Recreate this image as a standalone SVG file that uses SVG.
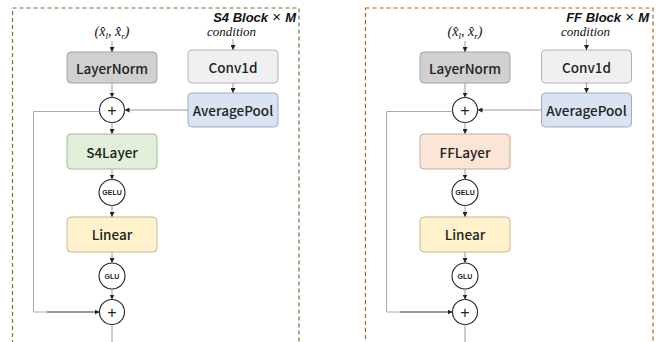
<svg xmlns="http://www.w3.org/2000/svg" width="659" height="342" viewBox="0 0 659 342">
  <defs>
    <marker id="arr" viewBox="0 0 6 6" refX="6" refY="3" markerWidth="5" markerHeight="5" orient="auto" markerUnits="userSpaceOnUse">
      <path d="M0,0 L6,3 L0,6 z" fill="#222"/>
    </marker>
    <style>
      .frame { fill: none; stroke-width: 1.2; stroke-dasharray: 4 3; }
      .box { stroke-width: 1; }
      .lbl { font-family: "Noto Sans CJK JP", "Noto Sans", sans-serif; font-weight: 500; font-size: 13.5px; fill: #222; text-anchor: middle; dominant-baseline: central; }
      .act { fill: #fff; stroke: #222; stroke-width: 1.1; }
      .actlbl { font-family: "Liberation Sans", Arial, sans-serif; font-weight: bold; font-size: 7px; fill: #222; text-anchor: middle; dominant-baseline: central; }
      .plus { font-family: "Liberation Sans", Arial, sans-serif; font-size: 16px; fill: #222; text-anchor: middle; dominant-baseline: central; }
      .wire { fill: none; stroke: #9a9a9a; stroke-width: 1; }
      .skip { fill: none; stroke: #a4aabb; stroke-width: 1; }
      .dark { fill: none; stroke: #333; stroke-width: 1; }
      .title { font-family: "Liberation Sans", Arial, sans-serif; font-weight: bold; font-style: italic; font-size: 13px; fill: #111; text-anchor: end; }
      .times { font-style: normal; font-weight: normal; font-size: 15px; }
      .cond { font-family: "Liberation Serif", "Times New Roman", serif; font-style: italic; font-size: 13px; fill: #111; }
      .math { font-family: "Liberation Serif", "Times New Roman", serif; font-style: italic; font-size: 14px; fill: #111; text-anchor: middle; }
    </style>
  </defs>

  <!-- S4 block (left) -->
  <g id="s4-block">
    <rect class="frame" x="12.5" y="8" width="286.5" height="340" stroke="#548235"/>
    <text class="title" x="296" y="22">S4 Block<tspan class="times"> × </tspan>M</text>
    <text class="cond" x="207" y="36">condition</text>
    <text class="math" x="112" y="36">(<tspan>x̂</tspan><tspan font-size="9" dy="2.5">l</tspan><tspan dy="-2.5">, </tspan><tspan>x̂</tspan><tspan font-size="9" dy="2.5">r</tspan><tspan dy="-2.5">)</tspan></text>
  </g>
  <g id="s4-layernorm">
    <rect class="box" x="67" y="52" width="90" height="31" rx="4" fill="#d0d0d0" stroke="#a3a3a3"/>
    <text class="lbl" x="112" y="67.5">LayerNorm</text>
  </g>
  <g id="s4-conv1d">
    <rect class="box" x="188" y="50" width="90" height="33" rx="4" fill="#f0f0f0" stroke="#b3b3b3"/>
    <text class="lbl" x="233" y="66.5">Conv1d</text>
  </g>
  <g id="s4-avgpool">
    <rect class="box" x="188" y="93" width="90" height="34" rx="4" fill="#dae3f3" stroke="#a3abbb"/>
    <text class="lbl" x="233" y="110">AveragePool</text>
  </g>
  <g id="s4-add1">
    <circle class="act" cx="112" cy="110" r="12.5"/>
    <text class="plus" x="112" y="110">+</text>
  </g>
  <g id="s4-layer">
    <rect class="box" x="67" y="134" width="90" height="35" rx="4" fill="#e2efda" stroke="#a8b89c"/>
    <text class="lbl" x="112" y="151.5">S4Layer</text>
  </g>
  <g id="s4-gelu">
    <circle class="act" cx="112" cy="192.5" r="13"/>
    <text class="actlbl" x="112" y="192.5">GELU</text>
  </g>
  <g id="s4-linear">
    <rect class="box" x="67" y="217" width="90" height="35" rx="4" fill="#fff2cc" stroke="#c4b893"/>
    <text class="lbl" x="112" y="234">Linear</text>
  </g>
  <g id="s4-glu">
    <circle class="act" cx="112" cy="276" r="13"/>
    <text class="actlbl" x="112" y="276">GLU</text>
  </g>
  <g id="s4-add2">
    <circle class="act" cx="112" cy="312" r="12.5"/>
    <text class="plus" x="112" y="312">+</text>
  </g>

  <!-- FF block (right) -->
  <g id="ff-block">
    <rect class="frame" x="365.5" y="8" width="287.5" height="340" stroke="#c55a11"/>
    <text class="title" x="649" y="22">FF Block<tspan class="times"> × </tspan>M</text>
    <text class="cond" x="561" y="35.5">condition</text>
    <text class="math" x="465" y="36">(<tspan>x̂</tspan><tspan font-size="9" dy="2.5">l</tspan><tspan dy="-2.5">, </tspan><tspan>x̂</tspan><tspan font-size="9" dy="2.5">r</tspan><tspan dy="-2.5">)</tspan></text>
  </g>
  <g id="ff-layernorm">
    <rect class="box" x="420" y="52" width="90" height="31" rx="4" fill="#d0d0d0" stroke="#a3a3a3"/>
    <text class="lbl" x="465" y="67.5">LayerNorm</text>
  </g>
  <g id="ff-conv1d">
    <rect class="box" x="541.5" y="50" width="90" height="33" rx="4" fill="#f0f0f0" stroke="#b3b3b3"/>
    <text class="lbl" x="586.5" y="66.5">Conv1d</text>
  </g>
  <g id="ff-avgpool">
    <rect class="box" x="541.5" y="93" width="90" height="34" rx="4" fill="#dae3f3" stroke="#a3abbb"/>
    <text class="lbl" x="586.5" y="110">AveragePool</text>
  </g>
  <g id="ff-add1">
    <circle class="act" cx="465" cy="110" r="12.5"/>
    <text class="plus" x="465" y="110">+</text>
  </g>
  <g id="ff-layer">
    <rect class="box" x="420" y="134" width="90" height="35" rx="4" fill="#fbe5d6" stroke="#c4ab9b"/>
    <text class="lbl" x="465" y="151.5">FFLayer</text>
  </g>
  <g id="ff-gelu">
    <circle class="act" cx="465" cy="192.5" r="13"/>
    <text class="actlbl" x="465" y="192.5">GELU</text>
  </g>
  <g id="ff-linear">
    <rect class="box" x="420" y="217" width="90" height="35" rx="4" fill="#fff2cc" stroke="#c4b893"/>
    <text class="lbl" x="465" y="234">Linear</text>
  </g>
  <g id="ff-glu">
    <circle class="act" cx="465" cy="276" r="13"/>
    <text class="actlbl" x="465" y="276">GLU</text>
  </g>
  <g id="ff-add2">
    <circle class="act" cx="465" cy="312" r="12.5"/>
    <text class="plus" x="465" y="312">+</text>
  </g>

  <!-- connectors -->
  <g id="connectors">
    <!-- left block -->
    <line class="wire" x1="112" y1="41" x2="112" y2="52" marker-end="url(#arr)"/>
    <line class="wire" x1="233" y1="39" x2="233" y2="50" marker-end="url(#arr)"/>
    <line class="wire" x1="112" y1="83" x2="112" y2="97.5" marker-end="url(#arr)"/>
    <line class="wire" x1="233" y1="83" x2="233" y2="93" marker-end="url(#arr)"/>
    <line class="wire" x1="188" y1="110" x2="124.5" y2="110" marker-end="url(#arr)"/>
    <line class="wire" x1="112" y1="122.5" x2="112" y2="134" marker-end="url(#arr)"/>
    <line class="wire" x1="112" y1="169" x2="112" y2="179.5" marker-end="url(#arr)"/>
    <line class="wire" x1="112" y1="205.5" x2="112" y2="217" marker-end="url(#arr)"/>
    <line class="wire" x1="112" y1="252" x2="112" y2="263" marker-end="url(#arr)"/>
    <line class="wire" x1="112" y1="289" x2="112" y2="299.5" marker-end="url(#arr)"/>
    <line class="wire" x1="112" y1="324.5" x2="112" y2="342"/>
    <polyline class="skip" points="99.5,111.5 33.5,111.5 33.5,312 47,312"/>
    <line class="dark" x1="47" y1="312" x2="99.5" y2="312" marker-end="url(#arr)"/>
    <!-- right block -->
    <line class="wire" x1="465" y1="41" x2="465" y2="52" marker-end="url(#arr)"/>
    <line class="wire" x1="586.5" y1="39" x2="586.5" y2="50" marker-end="url(#arr)"/>
    <line class="wire" x1="465" y1="83" x2="465" y2="97.5" marker-end="url(#arr)"/>
    <line class="wire" x1="586.5" y1="83" x2="586.5" y2="93" marker-end="url(#arr)"/>
    <line class="wire" x1="541.5" y1="110" x2="477.5" y2="110" marker-end="url(#arr)"/>
    <line class="wire" x1="465" y1="122.5" x2="465" y2="134" marker-end="url(#arr)"/>
    <line class="wire" x1="465" y1="169" x2="465" y2="179.5" marker-end="url(#arr)"/>
    <line class="wire" x1="465" y1="205.5" x2="465" y2="217" marker-end="url(#arr)"/>
    <line class="wire" x1="465" y1="252" x2="465" y2="263" marker-end="url(#arr)"/>
    <line class="wire" x1="465" y1="289" x2="465" y2="299.5" marker-end="url(#arr)"/>
    <line class="wire" x1="465" y1="324.5" x2="465" y2="342"/>
    <polyline class="skip" points="452.5,111.5 386.5,111.5 386.5,312 400,312"/>
    <line class="dark" x1="400" y1="312" x2="452.5" y2="312" marker-end="url(#arr)"/>
  </g>
</svg>
